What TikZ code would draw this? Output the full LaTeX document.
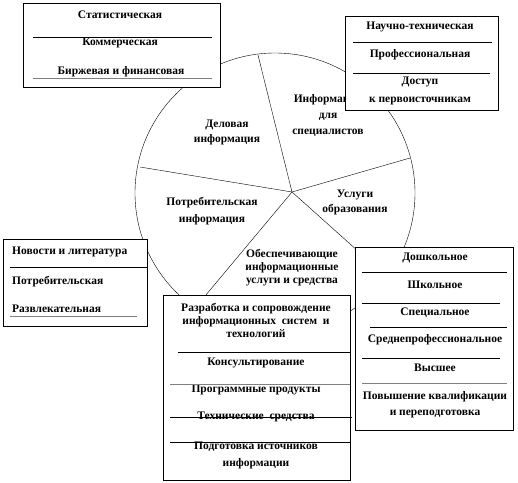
\documentclass[tikz,border=0pt]{standalone}
\usepackage{fontspec}
\setmainfont{Liberation Serif}
\usepackage{tikz}
\usetikzlibrary{positioning}
\definecolor{rulegray}{RGB}{128,128,128}
\tikzset{
  panel/.style={draw=black, thin, fill=white, inner sep=0pt, outer sep=0pt},
  item/.style={font=\fontsize{11.5}{13}\selectfont\bfseries, inner sep=0pt, align=center},
  sector/.style={font=\fontsize{11.5}{15}\selectfont\bfseries, inner sep=0pt, align=center},
  rim/.style={draw=black, thin},
  spoke/.style={draw=black, thin},
  rule/.style={draw=black, thin},
  softrule/.style={draw=rulegray, semithick}
}
\begin{document}
\begin{tikzpicture}[x=1pt, y=-1pt]
  \useasboundingbox (0,0) rectangle (518,482);
  % the round chart
  \coordinate (hub) at (292,192);
  \coordinate (rimtop) at (258,55);
  \coordinate (rimright) at (410,158);
  \coordinate (rimlowright) at (387,277);
  \coordinate (rimlowleft) at (195,308);
  \coordinate (rimleft) at (140,167);
  \draw[rim] (275,193) circle[radius=140pt];
  \foreach \rimpt in {rimtop,rimright,rimlowright,rimlowleft,rimleft}
    \draw[spoke] (hub) -- (\rimpt);
  \node[sector] (business) at (227,132) {Деловая\\информация};
  \node[sector, font=\fontsize{11.5}{16}\selectfont\bfseries] (special) at (328,116) {Информация\\для\\специалистов};
  \node[sector, font=\fontsize{11.5}{17}\selectfont\bfseries] (consumer) at (212,211) {Потребительская\\информация};
  \node[sector] (education) at (355,202) {Услуги\\образования};
  \node[sector, font=\fontsize{11.5}{13}\selectfont\bfseries] (support) at (292,268)
    {Обеспечивающие\\информационные\\услуги и средства};
  % business panel
  \node[panel, minimum width=197pt, minimum height=84pt] (statpanel) at (121.5,45) {};
  \node[item] (stat) at (120,15) {Статистическая};
  \node[item] (comm) at (120,43) {Коммерческая};
  \node[item] (exch) at (121,72) {Биржевая и финансовая};
  \draw[rule] (33,37) -- (212,37);
  \draw[softrule] (33,78) -- (212,78);
  % specialists panel
  \node[panel, minimum width=153pt, minimum height=94pt] (scipanel) at (421.5,63) {};
  \node[item] (sci) at (420,27) {Научно-техническая};
  \node[item] (prof) at (420,55) {Профессиональная};
  \node[item, font=\fontsize{11.5}{18}\selectfont\bfseries] (access) at (420,91) {Доступ\\к первоисточникам};
  \draw[rule] (353,42) -- (492,42);
  \draw[rule] (353,73) -- (490,73);
  % consumer panel
  \node[panel, minimum width=144pt, minimum height=87pt] (newspanel) at (75,282.5) {};
  \node[item, anchor=west] (news) at (12,252) {Новости и литература};
  \node[item, anchor=west] (goods) at (12,282) {Потребительская};
  \node[item, anchor=west] (leisure) at (12,309) {Развлекательная};
  \draw[rule] (10,267) -- (147,267);
  \draw[softrule] (10,316) -- (137,316);
  % support panel
  \node[panel, minimum width=187pt, minimum height=185pt] (devpanel) at (256.5,387.5) {};
  \node[item] (dev) at (256,320)
    {Разработка и сопровождение\\информационных\ \ систем\ \ и\\технологий};
  \node[item] (consult) at (256,363) {Консультирование};
  \node[item] (soft) at (256,390) {Программные продукты};
  \node[item] (hard) at (256,417) {Технические\ \ средства};
  \node[item, font=\fontsize{11.5}{17}\selectfont\bfseries] (sources) at (256,455)
    {Подготовка источников\\информации};
  \draw[rule] (178,352) -- (350,352);
  \draw[softrule] (170,384) -- (350,384);
  \draw[rule] (170,417) -- (352,417);
  \draw[rule] (170,442) -- (350,442);
  % education panel
  \node[panel, minimum width=158pt, minimum height=183pt] (edupanel) at (434,338.5) {};
  \node[item] (preschool) at (435,258) {Дошкольное};
  \node[item] (school) at (435,285) {Школьное};
  \node[item] (specialed) at (435,313) {Специальное};
  \node[item] (vocational) at (435,340) {Среднепрофессиональное};
  \node[item] (higher) at (435,368) {Высшее};
  \node[item, font=\fontsize{11.5}{16}\selectfont\bfseries] (training) at (435,405)
    {Повышение квалификации\\и переподготовка};
  \draw[rule] (362,272) -- (507,272);
  \draw[rule] (362,303) -- (500,303);
  \draw[rule] (370,327) -- (507,327);
  \draw[rule] (362,358) -- (500,358);
  \draw[softrule] (362,383) -- (507,383);
\end{tikzpicture}
\end{document}
